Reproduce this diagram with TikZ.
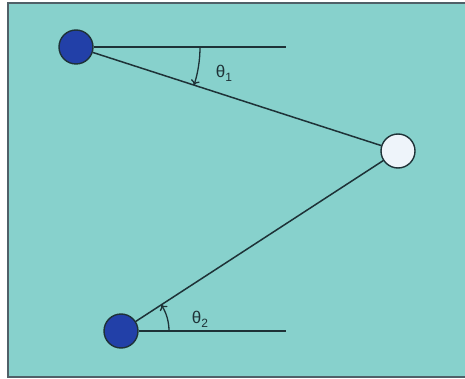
\documentclass[tikz,border=0pt]{standalone}
\usepackage{fontspec}
\setmainfont{Liberation Sans}
\usetikzlibrary{arrows.meta}
\definecolor{bgteal}{RGB}{135,209,204}
\definecolor{framegray}{RGB}{80,96,104}
\definecolor{ballblue}{RGB}{34,64,168}
\definecolor{ballwhite}{RGB}{238,244,250}
\definecolor{linedark}{RGB}{30,50,55}
\newcommand{\lowsub}[1]{\raisebox{-0.45ex}{\fontsize{12pt}{12pt}\selectfont #1}}
\tikzset{
  ball/.style={circle, draw=linedark, line width=1.4pt, minimum size=34pt, inner sep=0pt},
  link/.style={draw=linedark, line width=1.5pt},
  hline/.style={draw=linedark, line width=2pt},
  anglearc/.style={draw=linedark, line width=1.3pt, -{To[length=5pt,width=9pt]}},
  anglelabel/.style={font=\fontsize{17pt}{17pt}\selectfont, text=linedark, inner sep=0pt}
}
\begin{document}
\begin{tikzpicture}[x=1pt,y=-1pt]
\useasboundingbox (0,0) rectangle (465,379);
\fill[white] (0,0) rectangle (465,379);
\draw[fill=bgteal, draw=framegray, line width=2pt] (8,3) rectangle (470,377);
\node[ball, fill=ballblue] (p1) at (76,47) {};
\node[ball, fill=ballblue] (p2) at (121,331) {};
\node[ball, fill=ballwhite] (m) at (398,151) {};
\coordinate (h1) at (286,47);
\coordinate (h2) at (286,331);
\draw[link] (p1) -- (m);
\draw[link] (p2) -- (m);
\draw[hline] (p1.east) -- (h1);
\draw[hline] (p2.east) -- (h2);
\draw[anglearc] ([shift={(0:124)}]p1.center) arc[start angle=0, end angle=17.9, radius=124];
\draw[anglearc] ([shift={(0:48)}]p2.center) arc[start angle=0, end angle=-33.0, radius=48];
\node[anglelabel] (t1) at (224,73) {θ\lowsub{1}};
\node[anglelabel] (t2) at (200,319) {θ\lowsub{2}};
\end{tikzpicture}
\end{document}
